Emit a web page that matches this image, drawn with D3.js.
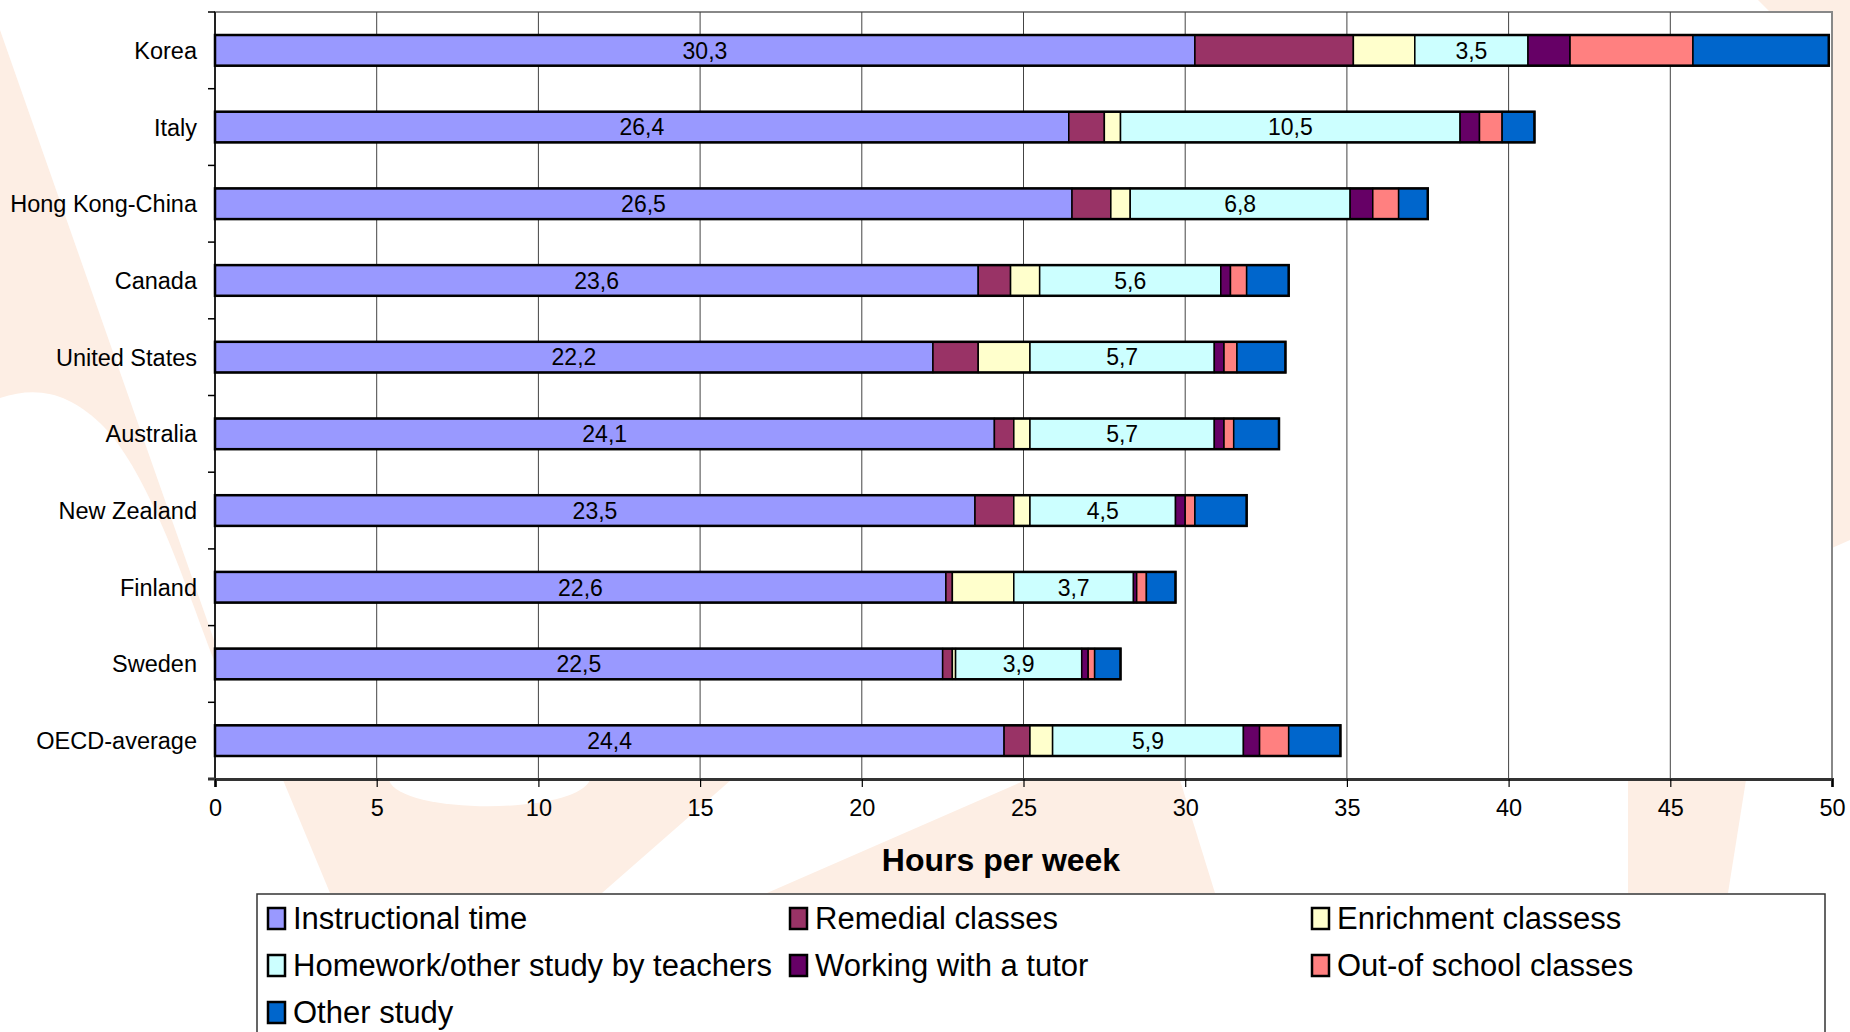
<!DOCTYPE html>
<html>
<head>
<meta charset="utf-8">
<script src="https://cdn.jsdelivr.net/npm/d3@7"></script>
<style>
  html, body { margin: 0; padding: 0; background: #fff; }
  svg { display: block; font-family: "Liberation Sans", Arial, sans-serif; }
</style>
</head>
<body>
<svg id="chart" width="1850" height="1032"></svg>
<script>
const categories = ["Korea", "Italy", "Hong Kong-China", "Canada", "United States", "Australia", "New Zealand", "Finland", "Sweden", "OECD-average"];
const seriesNames = ["Instructional time", "Remedial classes", "Enrichment classess", "Homework/other study by teachers", "Working with a tutor", "Out-of school classes", "Other study"];
const instructional = [30.3, 26.4, 26.5, 23.6, 22.2, 24.1, 23.5, 22.6, 22.5, 24.4];
const remedial      = [4.9, 1.1, 1.2, 1.0, 1.4, 0.6, 1.2, 0.2, 0.3, 0.8];
const enrichment    = [1.9, 0.5, 0.6, 0.9, 1.6, 0.5, 0.5, 1.9, 0.1, 0.7];
const homework      = [3.5, 10.5, 6.8, 5.6, 5.7, 5.7, 4.5, 3.7, 3.9, 5.9];
const tutor         = [1.3, 0.6, 0.7, 0.3, 0.3, 0.3, 0.3, 0.1, 0.2, 0.5];
const outOfSchool   = [3.8, 0.7, 0.8, 0.5, 0.4, 0.3, 0.3, 0.3, 0.2, 0.9];
const otherStudy    = [4.2, 1.0, 0.9, 1.3, 1.5, 1.4, 1.6, 0.9, 0.8, 1.6];
const labelled      = [true, false, false, true, false, false, false];
const xTicks = [0, 5, 10, 15, 20, 25, 30, 35, 40, 45, 50];
const colors = ["#9999FF", "#993366", "#FFFFCC", "#CCFFFF", "#660066", "#FF8080", "#0066CC"];

const seriesValues = [instructional, remedial, enrichment, homework, tutor, outOfSchool, otherStudy];
const keys = seriesNames;
const table = categories.map((c, i) => {
  const row = { category: c };
  keys.forEach((k, j) => row[k] = seriesValues[j][i]);
  return row;
});
const stacked = d3.stack().keys(keys)(table);

const svg = d3.select("#chart");
const font = "'Liberation Sans', Arial, sans-serif";

// ---- background watermark (decorative) ----
const wm = svg.append("g").attr("fill", "#FDEEE4");
wm.append("path").attr("d", "M0,30 L214,640 L214,660 C190,600 150,470 100,423 C70,395 40,385 0,398 Z");
wm.append("path").attr("d", "M283,780 L731,780 L602,893 L330,893 Z");
wm.append("path").attr("d", "M1026,780 L1180,780 L1215,893 L767,893 Z");
wm.append("path").attr("d", "M1628,780 L1746,780 L1728,893 L1628,893 Z");
wm.append("path").attr("d", "M1832,0 L1850,0 L1850,540 L1832,548 Z");
wm.append("path").attr("d", "M1758,0 L1850,0 L1850,12 L1770,12 Z");
svg.append("path").attr("fill", "#fff").attr("d", "M389,780 C400,815 575,815 590,780 Z");

const margin = { left: 215, right: 1832, top: 12, bottom: 779 };
const x = d3.scaleLinear().domain([0, 50]).range([margin.left, margin.right]);
const y = d3.scaleBand().domain(categories).range([margin.top, margin.bottom]).paddingInner(0.6).paddingOuter(0.3);

// plot area
svg.append("rect").attr("x", margin.left).attr("y", margin.top)
  .attr("width", margin.right - margin.left).attr("height", margin.bottom - margin.top)
  .attr("fill", "#fff").attr("stroke", "#888").attr("stroke-width", 2);

// gridlines
svg.append("g").selectAll("line").data(xTicks.filter(t => t > 0 && t < 50)).join("line")
  .attr("x1", d => x(d)).attr("x2", d => x(d))
  .attr("y1", margin.top).attr("y2", margin.bottom)
  .attr("stroke", "#444").attr("stroke-width", 1);

// bars
const barH = y.bandwidth();
svg.append("g").selectAll("g").data(stacked).join("g")
  .attr("fill", (d, i) => colors[i])
  .selectAll("rect").data(d => d).join("rect")
  .attr("x", d => x(d[0])).attr("width", d => x(d[1]) - x(d[0]))
  .attr("y", d => y(d.data.category)).attr("height", barH)
  .attr("stroke", "#000").attr("stroke-width", 1.5);

// outer bar outline
svg.append("g").selectAll("rect").data(table).join("rect")
  .attr("x", x(0))
  .attr("width", d => x(d3.sum(keys, k => d[k])) - x(0))
  .attr("y", d => y(d.category)).attr("height", barH)
  .attr("fill", "none").attr("stroke", "#000").attr("stroke-width", 2.5);

// bar labels
const fmt = v => d3.format(".1f")(v).replace(".", ",");
stacked.forEach((s, i) => {
  if (!labelled[i]) return;
  svg.append("g").selectAll("text").data(s).join("text")
    .attr("x", d => (x(d[0]) + x(d[1])) / 2)
    .attr("y", d => y(d.data.category) + barH / 2)
    .attr("dy", "0.36em")
    .attr("text-anchor", "middle")
    .attr("font-family", font).attr("font-size", 23).attr("fill", "#000")
    .text(d => fmt(d[1] - d[0]));
});

// y axis
svg.append("line").attr("x1", x(0)).attr("x2", x(0)).attr("y1", margin.top).attr("y2", margin.bottom)
  .attr("stroke", "#000").attr("stroke-width", 1.5);
const yBounds = d3.range(categories.length + 1).map(i => margin.top + i * y.step());
svg.append("g").selectAll("line").data(yBounds).join("line")
  .attr("x1", x(0) - 7).attr("x2", x(0)).attr("y1", d => d).attr("y2", d => d)
  .attr("stroke", "#000").attr("stroke-width", 1.5);
svg.append("g").selectAll("text").data(categories).join("text")
  .attr("x", 197).attr("y", d => y(d) + barH / 2).attr("dy", "0.36em")
  .attr("text-anchor", "end").attr("font-family", font).attr("font-size", 23.5).attr("fill", "#000")
  .text(d => d);

// x axis
const xAxis = d3.axisBottom(x).tickValues(xTicks).tickSize(8).tickPadding(12).tickFormat(d3.format("d"));
const gx = svg.append("g").attr("transform", `translate(0,${margin.bottom})`).call(xAxis);
gx.select(".domain").attr("stroke", "#333").attr("stroke-width", 3);
gx.selectAll(".tick line").attr("stroke", "#000").attr("stroke-width", 1.2);
gx.selectAll(".tick text").attr("font-family", font).attr("font-size", 23.5).attr("fill", "#000");
svg.append("line").attr("x1", x(0) - 7).attr("x2", x(0)).attr("y1", margin.bottom).attr("y2", margin.bottom)
  .attr("stroke", "#333").attr("stroke-width", 3);

svg.append("text").attr("x", 1001).attr("y", 871).attr("text-anchor", "middle")
  .attr("font-family", font).attr("font-size", 32).attr("font-weight", "bold").attr("fill", "#000")
  .text("Hours per week");

// legend
const lg = svg.append("g");
lg.append("rect").attr("x", 257).attr("y", 894).attr("width", 1568).attr("height", 160)
  .attr("fill", "#fff").attr("stroke", "#333").attr("stroke-width", 1.5);
const colX = [268, 790, 1312];
const rowY = [918, 965, 1012];
const items = lg.selectAll("g").data(seriesNames).join("g")
  .attr("transform", (d, i) => `translate(${colX[i % 3]},${rowY[Math.floor(i / 3)]})`);
items.append("rect").attr("x", 0).attr("y", -10).attr("width", 17).attr("height", 21)
  .attr("fill", (d, i) => colors[i]).attr("stroke", "#000").attr("stroke-width", 2.5);
items.append("text").attr("x", 25).attr("y", 0).attr("dy", "0.36em")
  .attr("font-family", font).attr("font-size", 31).attr("fill", "#000")
  .text(d => d);
</script>
</body>
</html>
